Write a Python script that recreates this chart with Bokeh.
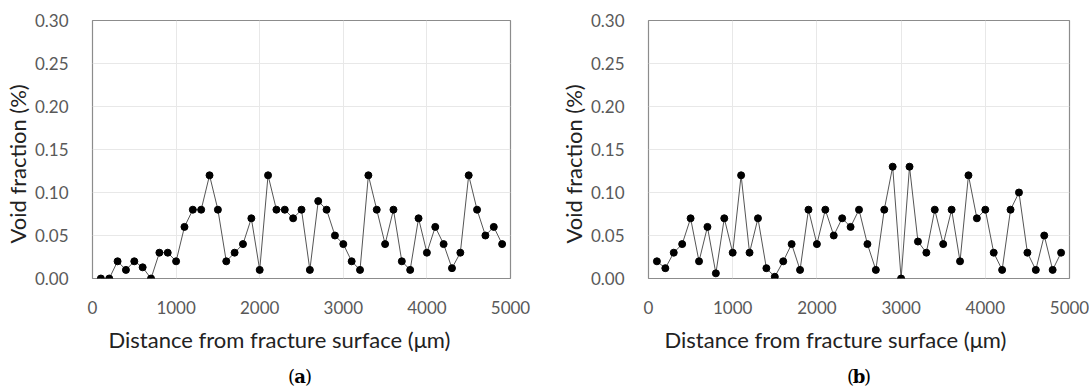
from bokeh.plotting import figure
from bokeh.layouts import column, row
from bokeh.models import Range1d, FixedTicker, PrintfTickFormatter, Title
from bokeh.core.properties import value
from bokeh.embed import file_html
from bokeh.resources import INLINE

distance_um = [100 * i for i in range(1, 50)]
void_a = [0.00, 0.00, 0.02, 0.01, 0.02, 0.013, 0.00, 0.03, 0.03, 0.02,
          0.06, 0.08, 0.08, 0.12, 0.08, 0.02, 0.03, 0.04, 0.07, 0.01,
          0.12, 0.08, 0.08, 0.07, 0.08, 0.01, 0.09, 0.08, 0.05, 0.04,
          0.02, 0.01, 0.12, 0.08, 0.04, 0.08, 0.02, 0.01, 0.07, 0.03,
          0.06, 0.04, 0.012, 0.03, 0.12, 0.08, 0.05, 0.06, 0.04]
void_b = [0.02, 0.012, 0.03, 0.04, 0.07, 0.02, 0.06, 0.006, 0.07, 0.03,
          0.12, 0.03, 0.07, 0.012, 0.002, 0.02, 0.04, 0.01, 0.08, 0.04,
          0.08, 0.05, 0.07, 0.06, 0.08, 0.04, 0.01, 0.08, 0.13, 0.00,
          0.13, 0.043, 0.03, 0.08, 0.04, 0.08, 0.02, 0.12, 0.07, 0.08,
          0.03, 0.01, 0.08, 0.10, 0.03, 0.01, 0.05, 0.01, 0.03]
x_ticks = [0, 1000, 2000, 3000, 4000, 5000]
y_ticks = [0.00, 0.05, 0.10, 0.15, 0.20, 0.25, 0.30]
x_title = "Distance from fracture surface (\u03bcm)"
y_title = "Void fraction (%)"
panel_letters = ["a", "b"]

FONT = "Lato"
SERIF = "DejaVu Serif"
H_MAIN = 360
H_CAP = 27


def make_panel(ys, width, border_left, border_right):
    p = figure(width=width, height=H_MAIN, output_backend="svg", toolbar_location=None,
               title=None,
               x_range=Range1d(0, 5000), y_range=Range1d(0, 0.30),
               min_border_left=border_left, min_border_right=border_right,
               min_border_top=20, min_border_bottom=82)
    p.outline_line_color = "#8c8c8c"
    p.outline_line_width = 1.2
    p.line(distance_um, ys, line_color="#555555", line_width=1)
    p.scatter(distance_um, ys, size=7, fill_color="black", line_color="black")

    for ax in (p.xaxis[0], p.yaxis[0]):
        ax.axis_line_color = None
        ax.major_tick_line_color = None
        ax.minor_tick_line_color = None
        ax.major_label_text_font = FONT
        ax.major_label_text_font_size = "17px"
        ax.major_label_text_color = "#595959"
    p.xaxis.ticker = FixedTicker(ticks=x_ticks)
    p.yaxis.ticker = FixedTicker(ticks=y_ticks)
    p.xaxis.formatter = PrintfTickFormatter(format="%d")
    p.yaxis.formatter = PrintfTickFormatter(format="%.2f")
    p.xaxis.major_label_standoff = 16
    p.yaxis.major_label_standoff = 18
    p.xgrid.ticker = FixedTicker(ticks=x_ticks)
    p.ygrid.ticker = FixedTicker(ticks=y_ticks)
    p.xgrid.grid_line_color = "#e8e8e8"
    p.ygrid.grid_line_color = "#e8e8e8"

    p.add_layout(Title(text=x_title, align="left", offset=16, standoff=14,
                       text_font=FONT, text_font_size="22px", text_font_style="normal",
                       text_color="#222222"), "below")
    p.add_layout(Title(text=y_title, align="left", offset=35, standoff=2,
                       text_font=FONT, text_font_size="22px", text_font_style="normal",
                       text_color="#222222"), "left")
    return p


def make_caption(letter, width, center_x):
    c = figure(width=width, height=H_CAP, output_backend="svg", toolbar_location=None,
               title=None,
               x_range=Range1d(0, width), y_range=Range1d(0, H_CAP),
               x_axis_type=None, y_axis_type=None,
               min_border_left=0, min_border_right=0, min_border_top=0, min_border_bottom=0)
    c.outline_line_color = None
    c.grid.visible = False
    kw = dict(text_font=value(SERIF), text_font_size="18px", text_baseline="top",
              text_color="black", y_offset=5)
    c.text(x=[center_x - 5], y=[H_CAP], text=["("], text_align="right", **kw)
    c.text(x=[center_x], y=[H_CAP], text=[letter], text_align="center",
           text_font_style="bold", **kw)
    c.text(x=[center_x + 5], y=[H_CAP], text=[")"], text_align="left", **kw)
    return c


pa = make_panel(void_a, 544, 89, 34)
pb = make_panel(void_b, 545, 104, 20)
ca = make_caption(panel_letters[0], 544, 89 + 210.5)
cb = make_caption(panel_letters[1], 545, 104 + 210.5)
layout = column(row(pa, pb), row(ca, cb))

open("out.html", "w").write(file_html(layout, INLINE))
